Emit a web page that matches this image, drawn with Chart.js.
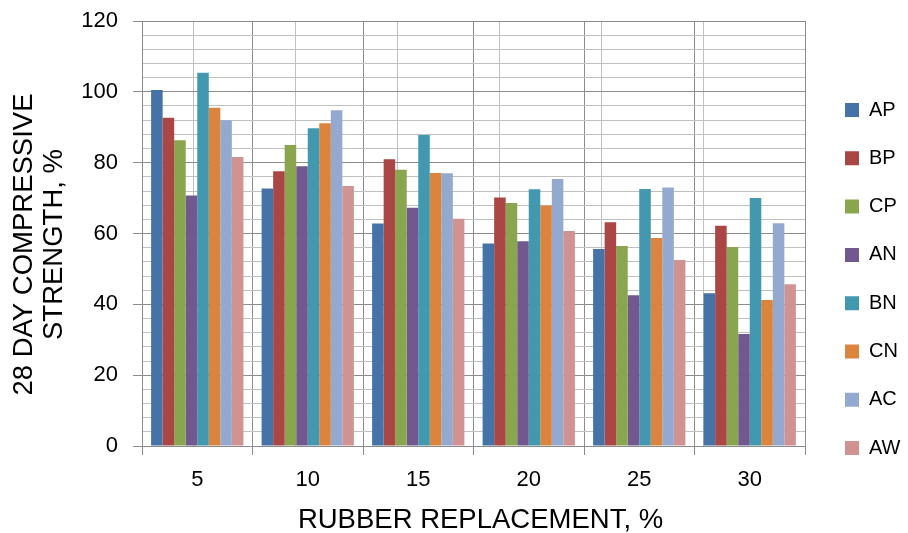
<!DOCTYPE html>
<html>
<head>
<meta charset="utf-8">
<script src="https://cdn.jsdelivr.net/npm/chart.js@4.4.0/dist/chart.umd.min.js"></script>
<style>
  html, body { margin: 0; padding: 0; background: #fff; }
  #wrap { width: 908px; height: 533px; }
</style>
</head>
<body>
<div id="wrap"><canvas id="myChart" width="908" height="533"></canvas></div>
<script>
// Rubber replacement levels (x categories)
const replacement = ['5', '10', '15', '20', '25', '30'];

// 28 day compressive strength, %
const apValues = [100.5, 72.7, 62.8, 57.2, 55.6, 43.1];
const bpValues = [92.7, 77.6, 81.0, 70.2, 63.2, 62.2];
const cpValues = [86.3, 85.0, 78.0, 68.6, 56.5, 56.2];
const anValues = [70.7, 79.0, 67.3, 57.8, 42.6, 31.6];
const bnValues = [105.4, 89.7, 87.8, 72.5, 72.6, 70.0];
const cnValues = [95.5, 91.1, 77.1, 67.9, 58.7, 41.2];
const acValues = [92.0, 94.8, 77.0, 75.4, 73.0, 62.9];
const awValues = [81.6, 73.4, 64.2, 60.7, 52.5, 45.7];

const seriesNames = ['AP', 'BP', 'CP', 'AN', 'BN', 'CN', 'AC', 'AW'];
const seriesValues = [apValues, bpValues, cpValues, anValues, bnValues, cnValues, acValues, awValues];
const seriesColors = ['#4572A7', '#AA4643', '#89A54E', '#71588F', '#4198AF', '#DB843D', '#93A9CF', '#D19392'];

const yTitleLines = ['28 DAY COMPRESSIVE', 'STRENGTH, %'];
const xTitle = 'RUBBER REPLACEMENT, %';

const majorGrid = '#8c8c8c';
const minorGrid = '#c0c0c0';
const noLine = 'rgba(0,0,0,0)';
const fontFamily = '"Liberation Sans", Arial, sans-serif';

Chart.defaults.font.family = fontFamily;
Chart.defaults.color = '#000';

// tick value of a grid line (undefined for the extra edge line)
const tickValue = (c) => (c.tick ? c.tick.value : undefined);

// axis titles drawn by hand: Excel puts them a little off the axis middles
const axisTitlePlugin = {
    id: 'axisTitles',
    afterDraw(chart) {
        const area = chart.chartArea;
        const c = chart.ctx;
        c.save();
        c.font = '27.5px ' + fontFamily;
        c.fillStyle = '#000';
        c.textAlign = 'center';
        c.textBaseline = 'middle';
        c.fillText(xTitle, (area.left + area.right) / 2 + 7, 520);
        c.translate(24, (area.top + area.bottom) / 2 + 11);
        c.rotate(-Math.PI / 2);
        yTitleLines.forEach((line, i) => c.fillText(line, 0, i * 30));
        c.restore();
    }
};

const datasets = seriesNames.map((name, i) => {
    return {
        label: name,
        data: seriesValues[i],
        backgroundColor: seriesColors[i],
        borderWidth: 0,
        categoryPercentage: 0.835,
        barPercentage: 1.0,
        xAxisID: 'x',
        yAxisID: 'y'
    };
});

const config = {
    type: 'bar',
    data: {
        labels: replacement,
        datasets: datasets
    },
    options: {
        responsive: false,
        animation: false,
        layout: {
            padding: { top: 21, right: 0, bottom: 0, left: 0 }
        },
        plugins: {
            legend: {
                position: 'right',
                align: 'start',
                maxWidth: 91.3,
                // empty title only pushes the first entry down
                title: { display: true, text: '', font: { size: 12 }, padding: { top: 0, bottom: 36.3 } },
                labels: {
                    boxWidth: 14,
                    boxHeight: 14,
                    padding: 28.3,
                    color: '#000',
                    font: { size: 20 }
                }
            },
            tooltip: { enabled: false }
        },
        scales: {
            x: {
                offset: true,
                grid: { offset: true, color: majorGrid, tickColor: majorGrid, tickLength: 9 },
                border: { color: majorGrid },
                ticks: { padding: 12, font: { size: 22 }, maxRotation: 0 },
                afterFit: (scale) => { scale.height = 87; }
            },
            // half-category lines between the bars
            xMid: {
                type: 'linear',
                position: 'top',
                min: 0,
                max: 12,
                ticks: { display: false, stepSize: 1 },
                grid: {
                    drawTicks: false,
                    color: (c) => (tickValue(c) % 2 === 1 ? minorGrid : noLine)
                },
                border: { display: false },
                afterFit: (scale) => { scale.height = 0; }
            },
            y: {
                min: 0,
                max: 120,
                ticks: {
                    stepSize: 4,
                    autoSkip: false,
                    maxTicksLimit: 100,
                    padding: 15,
                    font: { size: 22 },
                    callback: (v) => (v % 20 === 0 ? v : '')
                },
                grid: {
                    tickLength: 9,
                    color: (c) => (tickValue(c) % 20 === 0 ? majorGrid : minorGrid),
                    tickColor: (c) => (tickValue(c) % 20 === 0 ? majorGrid : noLine)
                },
                border: { color: majorGrid },
                afterFit: (scale) => {
                    scale.width = 142;
                    // tick padding should not push the plot top down
                    scale.paddingTop = 13;
                    scale.paddingBottom = 13;
                }
            },
            // spacer between plot and legend
            ySpace: {
                type: 'linear',
                position: 'right',
                ticks: { display: false },
                grid: { display: false },
                border: { display: false },
                afterFit: (scale) => { scale.width = 11.7; }
            }
        }
    },
    plugins: [axisTitlePlugin]
};

const ctx = document.getElementById('myChart').getContext('2d');
const myChart = new Chart(ctx, config);
</script>
</body>
</html>
